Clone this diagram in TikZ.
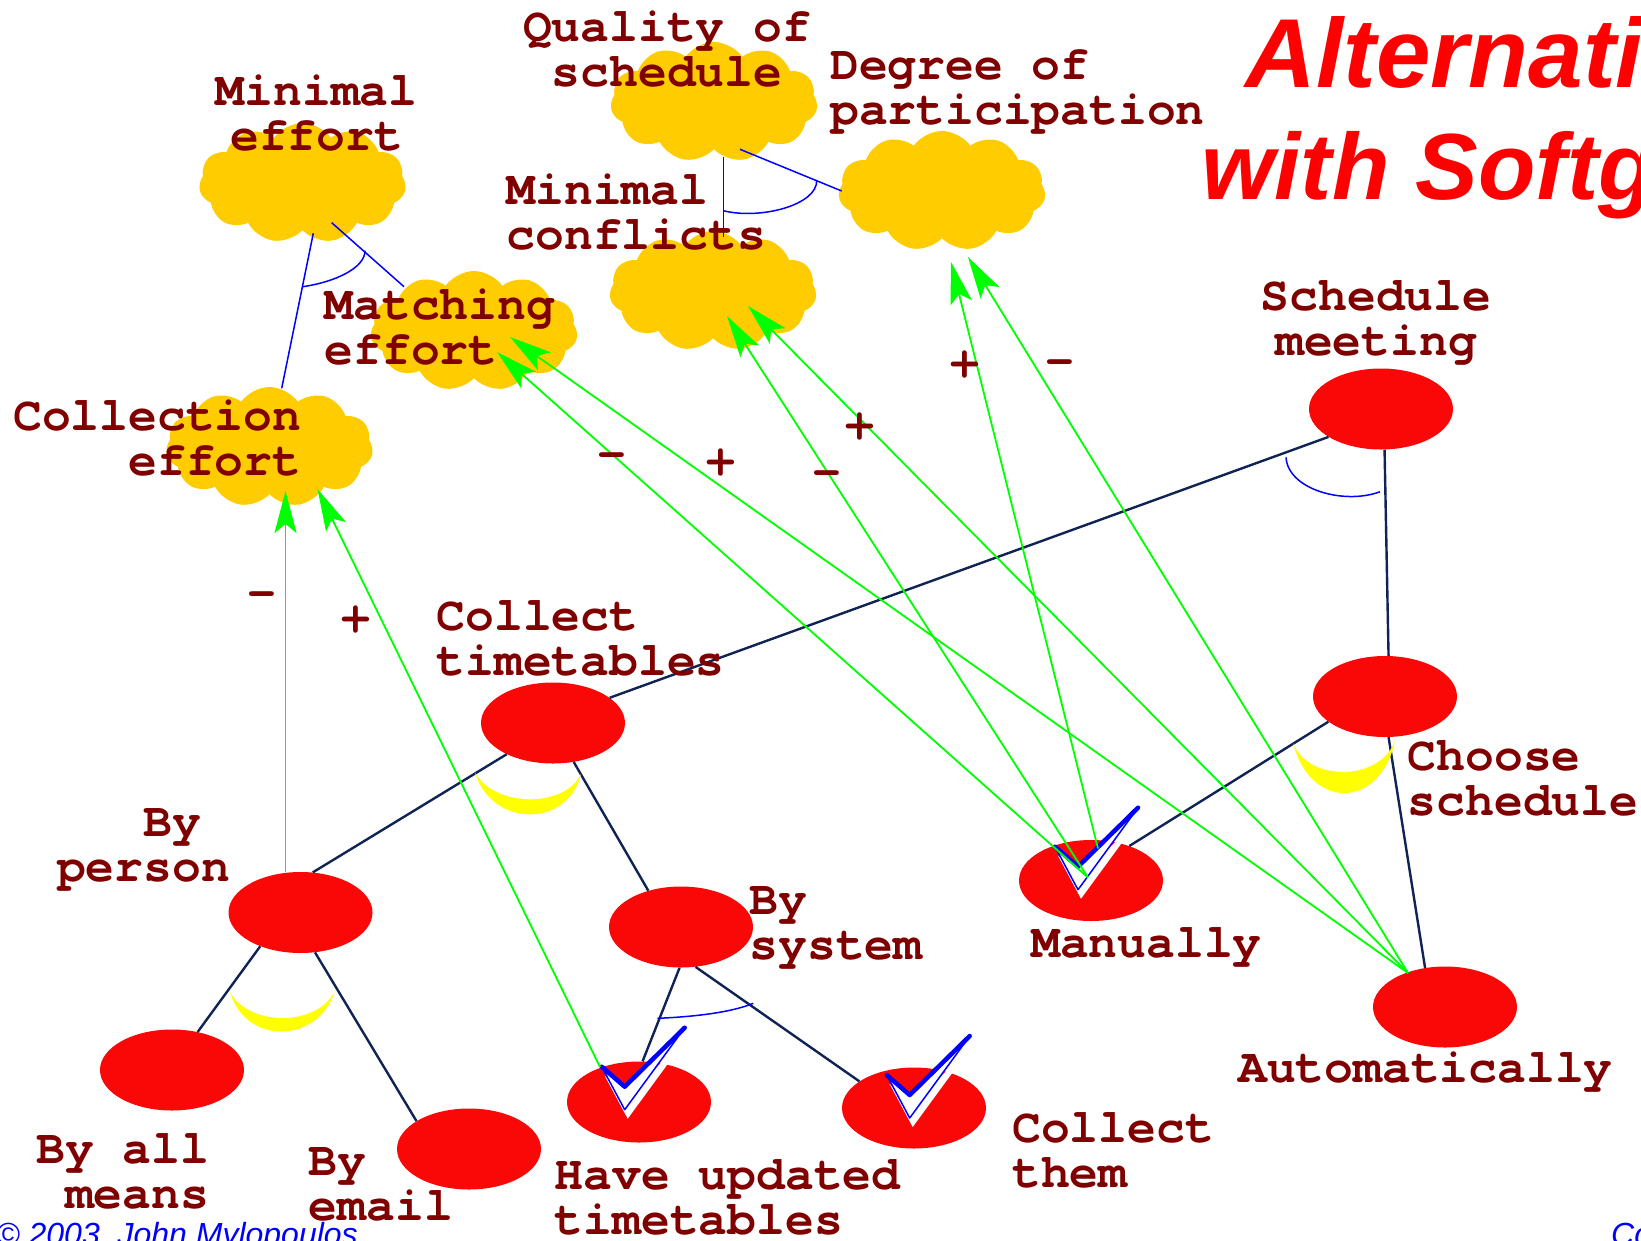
\documentclass[tikz,border=0pt]{standalone}
\usepackage{fontspec}
\setmonofont{TeX Gyre Cursor}[Ligatures={NoCommon}]
\newfontfamily\titlefont{Liberation Sans}
\usetikzlibrary{shapes.geometric,shapes.symbols,arrows.meta}

\definecolor{goalred}{RGB}{250,8,8}
\definecolor{softyellow}{RGB}{255,204,0}
\definecolor{labelred}{RGB}{128,0,0}
\definecolor{linknavy}{RGB}{15,35,85}
\definecolor{andyellow}{RGB}{255,255,0}
\definecolor{contribgreen}{RGB}{0,255,0}

\tikzset{
  pics/checkmark/.style={code={
    % offset white shadow of the tick
    \fill[white] (3,9) -- (26,52) -- (86,-30) -- (26,29) -- cycle;
    % the tick itself
    \filldraw[fill=white, draw=blue, line width=1.5pt, line join=round]
      (0,0) -- (23,43) -- (83,-39) -- (23,20) -- cycle;
    \draw[blue, line width=4.5pt, line join=round, line cap=round]
      (0,0) -- (23,20) -- (83,-39);
  }}
}

\begin{document}
\begin{tikzpicture}[x=1pt,y=-1pt,
  goal/.style={ellipse, fill=goalred, minimum width=144pt, minimum height=81pt, inner sep=0pt},
  softgoal/.style={cloud, cloud puffs=11, cloud puff arc=110, cloud ignores aspect,
    fill=softyellow, minimum width=207pt, minimum height=120pt, inner sep=0pt},
  txt/.style={text=labelred, font=\ttfamily\bfseries\fontsize{48}{45}\selectfont, inner sep=0pt},
  sign/.style={txt, anchor=base},
  decomp/.style={draw=linknavy, line width=2.4pt},
  sgdecomp/.style={draw=blue, line width=1.5pt},
  contrib/.style={draw=contribgreen, line width=1.8pt,
    -{Stealth[length=42pt,width=22pt,inset=9pt]}},
  titlestyle/.style={text=red, font=\titlefont\bfseries\itshape\fontsize{94}{110}\selectfont, inner sep=0pt},
  footstyle/.style={text=blue, font=\titlefont\itshape\fontsize{32}{36}\selectfont, inner sep=0pt}
]
\useasboundingbox (0,0) rectangle (1641,1240);
\clip (0,0) rectangle (1641,1240);
\fill[white] (0,0) rectangle (1641,1240);

% softgoals
\node[softgoal] (me) at (302.5,183) {};
\node[softgoal] (qs) at (714,102) {};
\node[softgoal] (dp) at (942,191) {};
\node[softgoal] (mc) at (713,291) {};
\node[softgoal] (mt) at (474,331) {};
\node[softgoal] (ce) at (269.5,447) {};

% softgoal AND decompositions
\draw[sgdecomp] ([shift={(10.8,50.3)}]me.center) -- ([shift={(12.2,-58.7)}]ce.center);
\draw[sgdecomp] ([shift={(29.2,39.7)}]me.center) -- ([shift={(-70,-44.3)}]mt.center);
\draw[sgdecomp] (302.7,286.7) .. controls (335,282) and (365,268) .. (365,250.7);
\draw[sgdecomp] ([shift={(9.3,54.7)}]qs.center) -- ([shift={(10.3,-54.3)}]mc.center);
\draw[sgdecomp] ([shift={(26,47.3)}]qs.center) -- ([shift={(-100.3,0)}]dp.center);
\draw[sgdecomp] (723.3,210.7) .. controls (760,220) and (818,205) .. (816.7,180);

% hard goals
\node[goal] (sm) at (1381,409) {};
\node[goal] (cs) at (1385,696.5) {};
\node[goal] (ct) at (553,723) {};
\node[goal] (bp) at (300.5,912.5) {};
\node[goal] (bs) at (681,927) {};
\node[goal] (mn) at (1091,880.5) {};
\node[goal] (au) at (1445,1007) {};
\node[goal] (ba) at (172,1070) {};
\node[goal] (be) at (469,1149) {};
\node[goal] (hu) at (639,1102) {};
\node[goal] (cm) at (914,1108) {};

% goal decompositions
\draw[decomp] (sm.208) -- (ct.24);
\draw[decomp] (sm.-85) -- (cs.85);
\draw[decomp] (ct.214) -- (bp.73);
\draw[decomp] (ct.-62) -- (bs.132);
\draw[decomp] (bp.220) -- (ba.56);
\draw[decomp] (bp.-70) -- (be.152);
\draw[decomp] (bs.-92) -- (hu.85);
\draw[decomp] (bs.-70) -- (cm.154);
\draw[decomp] (cs.204) -- (mn.42);
\draw[decomp] (cs.-85) -- (au.117);

% AND arcs
\draw[sgdecomp] (1286,457.3) .. controls (1288,490) and (1345,505) .. (1380,491.7);
\draw[sgdecomp] (657.3,1018.3) .. controls (690,1017) and (730,1013) .. (753.3,1003.3);

% OR crescents
\fill[andyellow] (475,772.7) .. controls (492,828) and (568,828) .. (581,774)
  .. controls (565,808) and (495,808) .. (475,772.7) -- cycle;
\fill[andyellow] (230,991.7) .. controls (245,1045) and (318,1045) .. (335,990.7)
  .. controls (318,1027) and (248,1027) .. (230,991.7) -- cycle;
\fill[andyellow] (1293.3,743.3) .. controls (1310,810) and (1380,810) .. (1395,740.7)
  .. controls (1380,782) and (1308,782) .. (1293.3,743.3) -- cycle;

% selected alternatives
\pic (hutick) at (601.7,1066.7) {checkmark};
\pic (cmtick) at (886.7,1075) {checkmark};
\pic (mntick) at (1055,846.7) {checkmark};

% contributions
\draw[contrib] ([shift={(-15,-40.5)}]bp.center) -- ([shift={(16,44)}]ce.center);
\draw[contrib] ([shift={(-39,-35)}]hu.center) -- ([shift={(48,42)}]ce.center);
\draw[contrib] ([shift={(-3,-3)}]mn.center) -- ([shift={(23,21)}]mt.center);
\draw[contrib] ([shift={(-37,-34)}]au.center) -- ([shift={(36,6)}]mt.center);
\draw[contrib] ([shift={(-3,-3)}]mn.center) -- ([shift={(14,25)}]mc.center);
\draw[contrib] ([shift={(-37,-34)}]au.center) -- ([shift={(35,15)}]mc.center);
\draw[contrib] ([shift={(7,-32)}]mn.center) -- ([shift={(9,71)}]dp.center);
\draw[contrib] ([shift={(-37,-34)}]au.center) -- ([shift={(26,66)}]dp.center);

% contribution signs
\node[sign] (s1) at (261.6,607) {-};
\node[sign] (s2) at (356,631) {+};
\node[sign] (s3) at (612,468) {-};
\node[sign] (s4) at (721,474) {+};
\node[sign] (s5) at (827,486) {-};
\node[sign] (s6) at (860,438) {+};
\node[sign] (s7) at (965,376) {+};
\node[sign] (s8) at (1060,375) {-};

% goal labels
\node[txt, align=center] (tme) at (316.6,113) {Minimal\\effort};
\node[txt, align=center] (tqs) at (667,48.7) {Quality of\\schedule};
\node[txt, align=left, anchor=west] (tdp) at (830,92) {Degree of\\participation};
\node[txt, align=left, anchor=west] (tmc) at (506.5,212) {Minimal\\conflicts};
\node[txt, align=left, anchor=west] (tmt) at (324.5,327) {Matching\\effort};
\node[txt, align=right, anchor=east] (tce) at (301.4,438.5) {Collection\\effort};
\node[txt, align=center] (tsm) at (1376,323) {Schedule\\meeting};
\node[txt, align=left, anchor=west] (tct) at (436.4,638) {Collect\\timetables};
\node[txt, align=right, anchor=east] (tbp) at (230,850) {By\hphantom{n}\\person};
\node[txt, align=left, anchor=west] (tbs) at (749.4,928) {By\\system};
\node[txt, align=left, anchor=west] (tcs) at (1407.7,778.7) {Choose\\schedule};
\node[txt, anchor=west] (tmn) at (1031,947) {Manually};
\node[txt, anchor=west] (tau) at (1238,1071.6) {Automatically};
\node[txt, align=right, anchor=east] (tba) at (209.3,1171.7) {By all\\means};
\node[txt, align=left, anchor=west] (tbe) at (308.7,1184.2) {By\\email};
\node[txt, align=left, anchor=west] (thu) at (554.7,1197.3) {Have updated\\timetables};
\node[txt, align=left, anchor=west] (tcm) at (1012,1150) {Collect\\them};

% title and footer
\node[titlestyle, anchor=base west, font=\titlefont\bfseries\itshape\fontsize{98}{110}\selectfont] (t1) at (1245.5,87) {Alternatives};
\node[titlestyle, anchor=base west] (t2) at (1201.5,199) {with Softgoals};
\node[footstyle, anchor=base west] (f1) at (-4,1245) {© 2003, John Mylopoulos};
\node[footstyle, anchor=base west] (f2) at (1611,1245) {Conceptual Modeling};
\end{tikzpicture}
\end{document}
